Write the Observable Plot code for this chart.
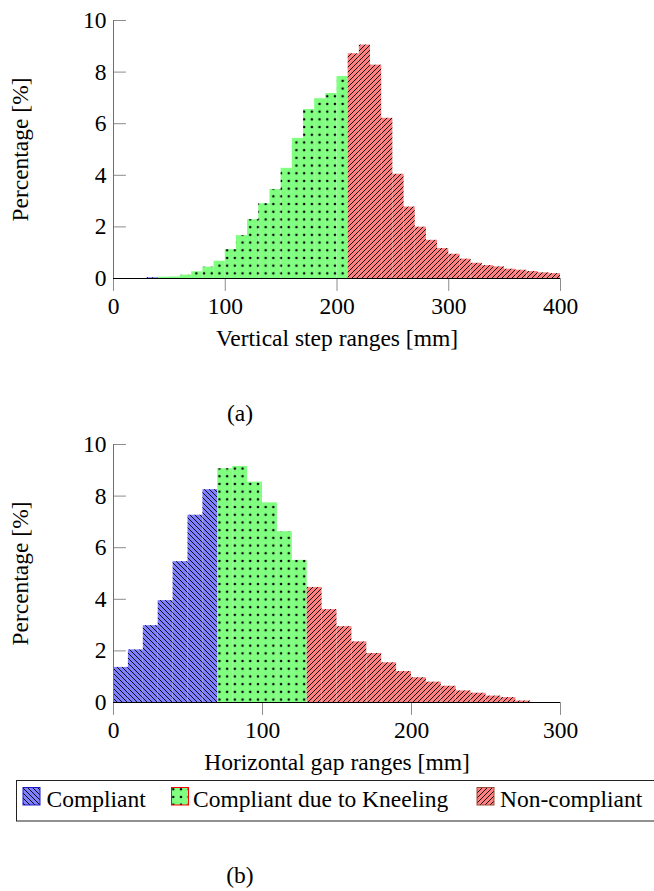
<!DOCTYPE html>
<html>
<head>
<meta charset="utf-8">
<script src="https://cdn.jsdelivr.net/npm/d3@7"></script>
<script src="https://cdn.jsdelivr.net/npm/@observablehq/plot@0.6"></script>
<style>
html, body { margin: 0; padding: 0; background: #fff; }
#fig { position: relative; width: 654px; height: 891px; overflow: hidden; background: #fff; }
#fig > svg.layer { position: absolute; left: 0; }
</style>
</head>
<body>
<div id="fig"></div>
<script>
// ---------- data ----------
const binWidth = 10;
const stepBinStart = [30, 40, 50, 60, 70, 80, 90, 100, 110, 120, 130, 140, 150, 160, 170, 180, 190, 200, 210, 220, 230, 240, 250, 260, 270, 280, 290, 300, 310, 320, 330, 340, 350, 360, 370, 380, 390];
const stepPercent  = [0.03, 0.05, 0.06, 0.13, 0.26, 0.44, 0.67, 1.12, 1.66, 2.28, 2.90, 3.45, 4.27, 5.43, 6.55, 6.97, 7.17, 7.83, 8.71, 9.05, 8.27, 6.21, 4.04, 2.77, 1.99, 1.48, 1.16, 0.94, 0.75, 0.59, 0.50, 0.45, 0.36, 0.32, 0.27, 0.22, 0.19];
const stepLimits = [40, 210];   // compliant < 40, kneeling < 210, else non-compliant

const gapBinStart = [0, 10, 20, 30, 40, 50, 60, 70, 80, 90, 100, 110, 120, 130, 140, 150, 160, 170, 180, 190, 200, 210, 220, 230, 240, 250, 260, 270];
const gapPercent  = [1.36, 2.04, 2.98, 3.95, 5.46, 7.26, 8.25, 9.06, 9.15, 8.54, 7.74, 6.62, 5.51, 4.46, 3.60, 2.94, 2.35, 1.90, 1.54, 1.20, 0.96, 0.79, 0.63, 0.45, 0.36, 0.25, 0.19, 0.06];
const gapLimits = [70, 130];

const classNames = ["Compliant", "Compliant due to Kneeling", "Non-compliant"];
const classColors = ["#8080ff", "#80ff80", "#ff8080"];
const classBorders = ["#1a1acc", "#ff0000", "#9a4a3a"];
const yTicks = [0, 2, 4, 6, 8, 10];
const stepXTicks = [0, 100, 200, 300, 400];
const gapXTicks = [0, 100, 200, 300];
const yLabel = "Percentage [%]";
const stepXLabel = "Vertical step ranges [mm]";
const gapXLabel = "Horizontal gap ranges [mm]";
const captions = ["(a)", "(b)"];

// ---------- patterns ----------
const FONT = "'Liberation Serif', 'Times New Roman', serif";
const FS = 23.5;
const fig = d3.select("#fig");
const defsSvg = fig.append("svg").attr("width", 0).attr("height", 0).style("position", "absolute");
const defs = defsSvg.append("defs");
const patternIds = ["pat-blue", "pat-green", "pat-red"];
const s = 5;
function linePattern(id, color, dir) {
  const p = defs.append("pattern").attr("id", id).attr("patternUnits", "userSpaceOnUse")
    .attr("width", s).attr("height", s);
  p.append("rect").attr("width", s).attr("height", s).attr("fill", color);
  const d = dir === "nw"
    ? `M${-s/4},${-s/4}L${s*1.25},${s*1.25}M${s*0.75},${-s/4}L${s*1.25},${s/4}M${-s/4},${s*0.75}L${s/4},${s*1.25}`
    : `M${-s/4},${s*1.25}L${s*1.25},${-s/4}M${-s/4},${s/4}L${s/4},${-s/4}M${s*0.75},${s*1.25}L${s*1.25},${s*0.75}`;
  p.append("path").attr("d", d).attr("stroke", "#000").attr("stroke-width", 0.9).attr("fill", "none");
}
linePattern(patternIds[0], classColors[0], "nw");
linePattern(patternIds[2], classColors[2], "ne");
{
  const g = 7.7;
  const p = defs.append("pattern").attr("id", patternIds[1]).attr("patternUnits", "userSpaceOnUse")
    .attr("width", g).attr("height", g);
  p.append("rect").attr("width", g).attr("height", g).attr("fill", classColors[1]);
  p.append("circle").attr("cx", g/2).attr("cy", g/2).attr("r", 1.25).attr("fill", "#000");
}

// ---------- charts ----------
function classify(x, limits) { return x < limits[0] ? 0 : x < limits[1] ? 1 : 2; }
const tickShape = { draw(ctx, l) { ctx.moveTo(0, 0); ctx.lineTo(0, -l); } };

function chart({starts, values, limits, xDomain, xTicks, xLabel, height, marginTop, marginBottom}) {
  const rows = starts.map((st, i) => ({x1: st, x2: st + binWidth, v: values[i], c: classify(st, limits)}));
  return Plot.plot({
    width: 654, height, marginLeft: 113, marginRight: 94, marginTop, marginBottom,
    x: {domain: xDomain},
    y: {domain: [0, 10]},
    style: {fontFamily: FONT, fontSize: FS + "px", background: "transparent", overflow: "visible", color: "#000"},
    marks: [
      ...[0, 1, 2].map(c => Plot.rectY(rows, {filter: d => d.c === c, x1: "x1", x2: "x2", y1: 0, y2: "v", fill: `url(#${patternIds[c]})`})),
      Plot.vector(yTicks, {x: () => xDomain[0], y: d => d, length: 12, rotate: 90, anchor: "start", shape: tickShape, stroke: "#8c8c8c", strokeWidth: 1}),
      Plot.vector(xTicks, {x: d => d, y: () => 0, length: 12, rotate: 180, anchor: "start", shape: tickShape, stroke: "#8c8c8c", strokeWidth: 1}),
      Plot.ruleX([xDomain[0]], {stroke: "#6e6e6e", strokeWidth: 1}),
      Plot.ruleY([0], {stroke: "#000", strokeWidth: 1}),
      Plot.axisY(yTicks, {tickSize: 0, tickPadding: 7, label: null}),
      Plot.axisX(xTicks, {tickSize: 0, tickPadding: 19, label: null}),
      Plot.text([yLabel], {text: d => d, frameAnchor: "left", textAnchor: "middle", rotate: -90, dx: -93.5, lineAnchor: "middle"}),
      Plot.text([xLabel], {text: d => d, frameAnchor: "bottom", textAnchor: "middle", dy: 59.5, lineAnchor: "middle"})
    ]
  });
}

const chartA = chart({starts: stepBinStart, values: stepPercent, limits: stepLimits, xDomain: [0, 400], xTicks: stepXTicks, xLabel: stepXLabel, height: 360, marginTop: 20, marginBottom: 82});
chartA.classList.add("layer");
chartA.style.top = "0px";
fig.node().appendChild(chartA);

const chartB = chart({starts: gapBinStart, values: gapPercent, limits: gapLimits, xDomain: [0, 300], xTicks: gapXTicks, xLabel: gapXLabel, height: 400, marginTop: 64, marginBottom: 78});
chartB.classList.add("layer");
chartB.style.top = "380px";
fig.node().appendChild(chartB);

// ---------- captions + legend overlay ----------
const ov = fig.append("svg").attr("class", "layer").attr("width", 654).attr("height", 891)
  .style("top", "0px").style("pointer-events", "none")
  .attr("font-family", FONT).attr("font-size", FS);
ov.selectAll("text.cap").data(captions).join("text").attr("class", "cap")
  .attr("x", 240).attr("y", (d, i) => i === 0 ? 421 : 883)
  .attr("text-anchor", "middle").text(d => d);

ov.append("rect").attr("x", 16.5).attr("y", 780.5).attr("width", 700).attr("height", 40.5)
  .attr("fill", "none").attr("stroke", "#222").attr("stroke-width", 1);
const swatchX = [23, 171.5, 477];
const textX = [46.5, 193, 500];
classNames.forEach((name, i) => {
  ov.append("rect").attr("x", swatchX[i]).attr("y", 787.5).attr("width", 17).attr("height", 17.5)
    .attr("fill", `url(#${patternIds[i]})`).attr("stroke", classBorders[i]).attr("stroke-width", 1);
  ov.append("text").attr("x", textX[i]).attr("y", 806.5).text(name);
});
</script>
</body>
</html>
